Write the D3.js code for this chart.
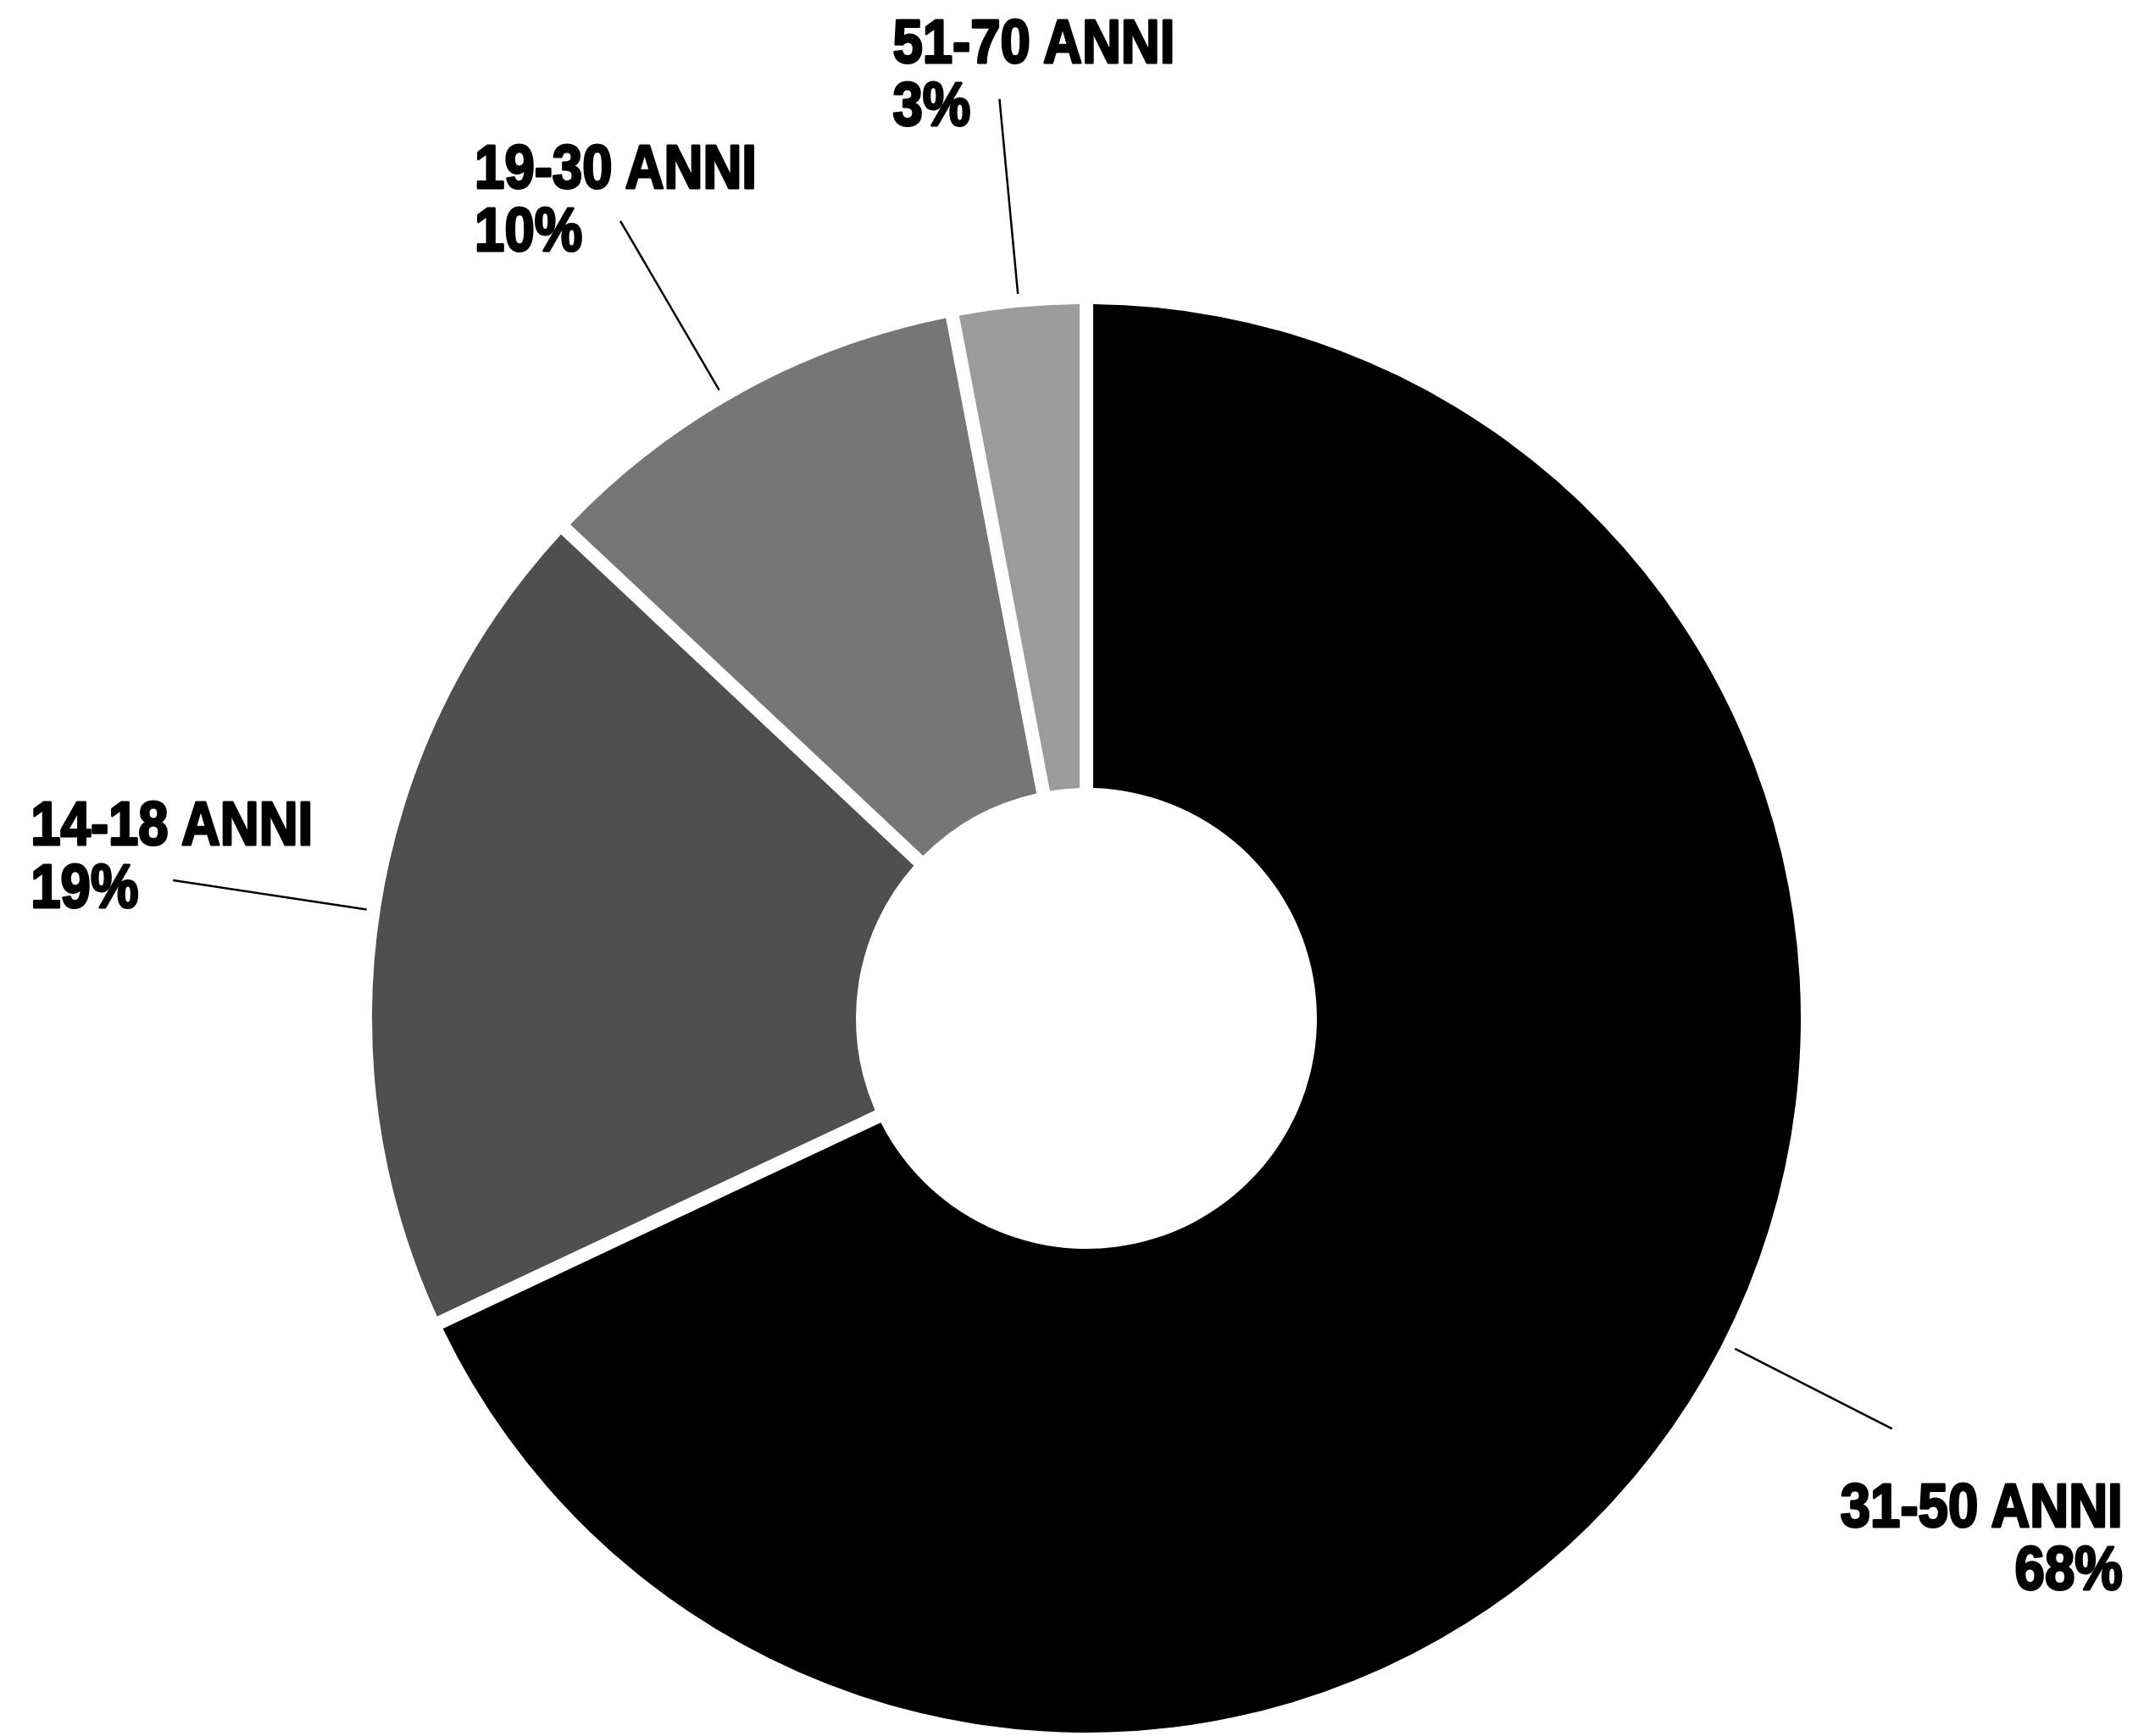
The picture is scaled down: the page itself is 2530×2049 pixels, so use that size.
<!DOCTYPE html>
<html>
<head>
<meta charset="utf-8">
<script src="https://cdn.jsdelivr.net/npm/d3@7"></script>
<style>
  body { margin: 0; background: #fff; }
  .label { font-family: "Liberation Sans", Arial, sans-serif; font-weight: bold; font-size: 73px; fill: #000; stroke: #000; stroke-width: 3; stroke-linejoin: round; }
</style>
</head>
<body>
<div id="chart"></div>
<script>
// Data
var categories = ["31-50 ANNI", "14-18 ANNI", "19-30 ANNI", "51-70 ANNI"];
var shares = [68, 19, 10, 3];
var shareLabels = ["68%", "19%", "10%", "3%"];

var width = 2530,
  height = 2049;

var cx = 1282,
  cy = 1202,
  outerR = 843,
  innerR = 272,
  gap = 16;

var color = d3.scaleOrdinal()
  .domain(categories)
  .range(["#000000", "#4f4f4f", "#767676", "#9b9b9b"]);

// label placement: leader angle tweak (deg), leader length and text offset from the leader end
var labelLayout = {
  "31-50 ANNI": { shift: -5.4, len: 224, anchor: "end", dx: 272, dy: 116 },
  "14-18 ANNI": { shift: -0.4, len: 247, anchor: "start", dx: -168, dy: -42 },
  "19-30 ANNI": { shift: -1.5, len: 247, anchor: "start", dx: -172, dy: -39 },
  "51-70 ANNI": { shift: 0, len: 247, anchor: "start", dx: -126, dy: -43 }
};

var rows = categories.map(function(c, i) {
  return { category: c, share: shares[i], label: shareLabels[i] };
});

var svg = d3.select("#chart")
  .append("svg")
  .attr("width", width)
  .attr("height", height);

var g = svg.append("g")
  .attr("transform", `translate(${cx},${cy})`);

var pie = d3.pie()
  .sort(null)
  .value(d => d.share);

// constant-width white gaps between slices
var arc = d3.arc()
  .innerRadius(innerR)
  .outerRadius(outerR)
  .padAngle(gap / outerR)
  .padRadius(outerR);

var arcs = pie(rows);

// Render slices
g.selectAll(".slice")
  .data(arcs)
  .enter()
  .append("path")
  .attr("class", "slice")
  .attr("d", arc)
  .attr("fill", d => color(d.data.category));

function polar(a, r) {
  return [r * Math.sin(a), -r * Math.cos(a)];
}

function leaderAngle(d) {
  return (d.startAngle + d.endAngle) / 2 + labelLayout[d.data.category].shift * Math.PI / 180;
}

var r1 = outerR + 16;

function leaderEnd(d) {
  return polar(leaderAngle(d), outerR + labelLayout[d.data.category].len);
}

// Render leader lines
g.selectAll(".leader")
  .data(arcs)
  .enter()
  .append("line")
  .attr("class", "leader")
  .attr("x1", d => polar(leaderAngle(d), r1)[0])
  .attr("y1", d => polar(leaderAngle(d), r1)[1])
  .attr("x2", d => leaderEnd(d)[0])
  .attr("y2", d => leaderEnd(d)[1])
  .style("stroke", "#000")
  .style("stroke-width", 2.5);

// Render labels (bold sans squeezed to a condensed look)
var labels = g.selectAll(".label")
  .data(arcs)
  .enter()
  .append("text")
  .attr("class", "label")
  .attr("text-anchor", d => labelLayout[d.data.category].anchor)
  .attr("transform", d => {
    var p = leaderEnd(d);
    var l = labelLayout[d.data.category];
    return `translate(${p[0] + l.dx},${p[1] + l.dy}) scale(0.87,1)`;
  });

labels.append("tspan")
  .attr("x", 0)
  .attr("y", 0)
  .text(d => d.data.category);

labels.append("tspan")
  .attr("x", 0)
  .attr("y", 74)
  .text(d => d.data.label);
</script>
</body>
</html>
